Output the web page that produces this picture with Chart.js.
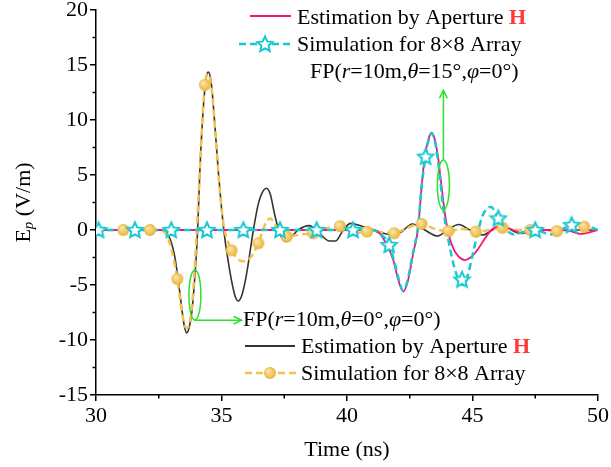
<!DOCTYPE html>
<html>
<head>
<meta charset="utf-8">
<script src="https://cdn.jsdelivr.net/npm/chart.js@4.4.0/dist/chart.umd.min.js"></script>
<style>
  html, body { margin: 0; padding: 0; background: #fff; }
  #wrap { width: 611px; height: 467px; }
</style>
</head>
<body>
<div id="wrap"><canvas id="chart" width="611" height="467"></canvas></div>
<script>
// FP(r=10m, theta=0) : estimation by aperture H (black)
const estTime0 = [30, 32.6, 32.8, 32.95, 33.1, 33.2, 33.3, 33.41, 33.5, 33.61, 33.72, 33.82, 33.94, 34.05, 34.14, 34.27, 34.4, 34.48, 34.6, 34.74, 34.87, 35.0, 35.14, 35.25, 35.4, 35.54, 35.67, 35.8, 35.95, 36.07, 36.27, 36.47, 36.67, 36.8, 36.95, 37.1, 37.25, 37.4, 37.57, 37.8, 38.05, 38.5, 38.9, 39.3, 39.55, 39.85, 40.15, 40.6, 41.1, 41.7, 42.15, 42.6, 43.1, 43.6, 44.0, 44.45, 44.9, 45.4, 45.8, 46.2, 46.9, 47.5, 48.5, 50];
const estVal0 = [0, 0, -0.2, -0.8, -2.0, -3.3, -5.0, -7.0, -8.5, -9.35, -8.8, -7.4, -4.2, 0, 5.5, 10.9, 14.0, 14.35, 13.2, 9.4, 5.4, 2.0, -0.9, -2.6, -4.6, -6.0, -6.45, -6.0, -4.6, -3.0, 0, 2.4, 3.6, 3.8, 3.2, 1.6, 0.2, -0.7, -1.05, -0.6, 0, 0.4, -0.3, -1.0, -1.0, 0, 0.6, 0.35, 0, -0.4, -0.2, 0.55, 0, -0.55, 0, 0.5, 0, -0.45, 0, 0.3, -0.3, 0, 0, 0];

// FP(r=10m, theta=0) : simulation for 8x8 array (orange dashed)
const simTime0 = [30, 32.6, 32.8, 32.95, 33.1, 33.24, 33.35, 33.45, 33.55, 33.65, 33.75, 33.85, 33.95, 34.05, 34.15, 34.25, 34.34, 34.45, 34.6, 34.74, 34.87, 35.0, 35.12, 35.25, 35.4, 35.6, 35.85, 36.05, 36.25, 36.47, 36.65, 36.8, 36.95, 37.1, 37.35, 37.6, 37.9, 38.2, 38.66, 39.1, 39.72, 40.3, 40.8, 41.3, 41.88, 42.4, 42.97, 43.5, 44.04, 44.6, 45.13, 45.7, 46.2, 46.8, 47.3, 47.8, 48.36, 48.9, 49.45, 50];
const simVal0 = [0, 0, -0.4, -1.3, -2.7, -4.45, -6.3, -7.8, -8.8, -8.9, -8.2, -6.2, -2.8, 1.5, 6.0, 10.5, 13.2, 14.2, 13.0, 9.3, 5.4, 2.0, 0, -1.0, -1.85, -2.5, -2.85, -2.75, -2.2, -1.2, 0, 0.8, 1.05, 0.6, -0.2, -0.6, -0.5, -0.4, -0.3, 0.1, 0.35, -0.3, -0.15, -0.2, -0.3, 0.2, 0.55, 0.1, -0.1, 0.1, -0.15, 0, 0.2, 0, 0, -0.1, -0.1, 0.2, 0.3, 0];
const simMarkTime0 = [31.09, 32.15, 33.24, 34.34, 35.4, 36.47, 37.6, 38.66, 39.72, 40.8, 41.88, 42.97, 44.04, 45.13, 46.2, 47.3, 48.36, 49.45];
const simMarkVal0 = [0, 0, -4.45, 13.2, -1.85, -1.2, -0.6, -0.3, 0.35, -0.15, -0.3, 0.55, -0.1, -0.15, 0.2, 0, -0.1, 0.3];

// FP(r=10m, theta=15) : estimation by aperture H (pink)
const estTime15 = [30, 41.0, 41.3, 41.55, 41.84, 42.04, 42.24, 42.44, 42.64, 42.84, 42.97, 43.1, 43.24, 43.37, 43.5, 43.64, 43.77, 43.9, 44.04, 44.24, 44.44, 44.7, 44.97, 45.23, 45.5, 45.75, 46.1, 46.5, 47.0, 47.6, 48.5, 48.9, 49.3, 50];
const estVal15 = [0, 0, -0.3, -1.2, -2.7, -4.5, -5.6, -4.5, -2.1, 0.3, 3.9, 6.67, 8.2, 8.85, 8.2, 6.4, 3.9, 1.5, -0.3, -1.7, -2.4, -2.73, -2.4, -1.7, -0.75, 0, 0.35, 0.1, -0.3, 0, 0, -0.1, -0.35, 0];

// FP(r=10m, theta=15) : simulation for 8x8 array (cyan dashed)
const simTime15 = [30, 41.0, 41.3, 41.68, 41.9, 42.1, 42.24, 42.4, 42.6, 42.84, 42.97, 43.13, 43.24, 43.37, 43.5, 43.64, 43.77, 43.9, 44.04, 44.17, 44.3, 44.45, 44.6, 44.8, 45.0, 45.2, 45.4, 45.6, 45.75, 45.9, 46.03, 46.35, 46.65, 47.0, 47.5, 48.1, 48.6, 48.95, 49.5, 50];
const simVal15 = [0, 0, -0.3, -1.36, -3.0, -4.8, -5.5, -4.7, -2.4, 0.5, 3.9, 6.67, 8.1, 8.8, 8.1, 6.0, 3.3, 0.9, -0.9, -2.4, -3.6, -4.5, -5.0, -4.2, -2.3, -0.3, 1.3, 2.0, 2.1, 1.6, 1.06, 0, -0.4, -0.2, 0, -0.4, 0.1, 0.45, 0.4, 0];
const simMarkTime15 = [30.1, 31.55, 33.0, 34.42, 35.87, 37.33, 38.79, 40.24, 41.68, 43.13, 44.58, 46.03, 47.5, 48.95];
const simMarkVal15 = [0, 0, 0, 0, 0, 0, 0, 0, -1.36, 6.67, -4.5, 1.06, 0, 0.45];

const xTicks = [30, 35, 40, 45, 50];
const yTicks = [-15, -10, -5, 0, 5, 10, 15, 20];

const FONT = '"Liberation Serif", "Times New Roman", serif';
const BLACK = '#333333';
const ORANGE = '#f2c14e';
const PINK = '#f0147c';
const CYAN = '#17c8d0';
const GREEN = '#2ee02e';

const pts = (ts, vs) => ts.map((t, i) => ({ x: t, y: vs[i] }));

function makeStar(r, color) {
  const c = document.createElement('canvas');
  const size = Math.ceil(r * 2 + 4);
  c.width = c.height = size;
  const g = c.getContext('2d');
  const m = size / 2;
  g.beginPath();
  for (let i = 0; i < 10; i++) {
    const a = -Math.PI / 2 + i * Math.PI / 5;
    const rr = i % 2 ? r * 0.48 : r;
    g.lineTo(m + rr * Math.cos(a), m + rr * Math.sin(a) + 0.5);
  }
  g.closePath();
  g.fillStyle = '#fff';
  g.fill();
  g.lineWidth = 2;
  g.strokeStyle = color;
  g.stroke();
  return c;
}

function makeBall(r) {
  const c = document.createElement('canvas');
  const size = Math.ceil(r * 2 + 2);
  c.width = c.height = size;
  const g = c.getContext('2d');
  const m = size / 2;
  const grad = g.createRadialGradient(m - r * 0.35, m - r * 0.35, r * 0.1, m, m, r);
  grad.addColorStop(0, '#fde6a4');
  grad.addColorStop(1, '#e8b43c');
  g.beginPath();
  g.arc(m, m, r, 0, Math.PI * 2);
  g.fillStyle = grad;
  g.fill();
  return c;
}

const starImg = makeStar(8, CYAN);
const ballImg = makeBall(6);

function rich(ctx, x, y, parts) {
  let cx = x;
  for (const p of parts) {
    ctx.font = (p.i ? 'italic ' : '') + (p.b ? 'bold ' : '') + (p.s || 22) + 'px ' + FONT;
    ctx.fillStyle = p.c || '#000';
    ctx.fillText(p.t, cx, y + (p.dy || 0));
    cx += ctx.measureText(p.t).width;
  }
  return cx - x;
}

function fpParts(theta) {
  return [
    { t: 'FP(' }, { t: 'r', i: true }, { t: '=10m,' }, { t: '\u03B8', i: true },
    { t: '=' + theta + '\u00B0,' }, { t: '\u03C6', i: true }, { t: '=0\u00B0)' }
  ];
}

function seg(ctx, x1, y1, x2, y2) {
  ctx.beginPath();
  ctx.moveTo(x1, y1);
  ctx.lineTo(x2, y2);
  ctx.stroke();
}

function arrowHead(ctx, x, y, dir) {
  const a = 0.45, L = 9;
  ctx.beginPath();
  ctx.moveTo(x - L * Math.cos(dir - a), y - L * Math.sin(dir - a));
  ctx.lineTo(x, y);
  ctx.lineTo(x - L * Math.cos(dir + a), y - L * Math.sin(dir + a));
  ctx.stroke();
}

const overlay = {
  id: 'overlay',
  afterDraw(chart) {
    const ctx = chart.ctx;
    const xs = chart.scales.x, ys = chart.scales.y;
    const area = chart.chartArea;
    ctx.save();

    // minor ticks
    ctx.strokeStyle = '#000';
    ctx.lineWidth = 1.5;
    for (let i = 0; i < xTicks.length - 1; i++) {
      const px = xs.getPixelForValue((xTicks[i] + xTicks[i + 1]) / 2);
      seg(ctx, px, area.bottom, px, area.bottom + 3.5);
    }
    for (let i = 0; i < yTicks.length - 1; i++) {
      const py = ys.getPixelForValue((yTicks[i] + yTicks[i + 1]) / 2);
      seg(ctx, area.left - 3.5, py, area.left, py);
    }

    // y axis title  E_p (V/m)
    ctx.save();
    ctx.translate(24, (area.top + area.bottom) / 2);
    ctx.rotate(-Math.PI / 2);
    ctx.textBaseline = 'middle';
    ctx.textAlign = 'left';
    const yParts = [{ t: 'E' }, { t: 'p', i: true, s: 15, dy: 5 }, { t: ' (V/m)' }];
    let w = 0;
    for (const p of yParts) {
      ctx.font = (p.i ? 'italic ' : '') + (p.s || 22) + 'px ' + FONT;
      w += ctx.measureText(p.t).width;
    }
    rich(ctx, -w / 2, 0, yParts);
    ctx.restore();

    ctx.textBaseline = 'middle';
    ctx.textAlign = 'left';

    // upper legend (theta = 15)
    ctx.strokeStyle = PINK;
    ctx.lineWidth = 2;
    seg(ctx, 250, 16, 291, 16);
    rich(ctx, 297, 18, [{ t: 'Estimation by Aperture ' }, { t: 'H', b: true, c: '#ff3838' }]);
    ctx.strokeStyle = CYAN;
    ctx.lineWidth = 2.5;
    ctx.setLineDash([7, 4]);
    seg(ctx, 239, 44, 293, 44);
    ctx.setLineDash([]);
    ctx.drawImage(starImg, 265 - starImg.width / 2, 44 - starImg.height / 2);
    rich(ctx, 297, 45, [{ t: 'Simulation for 8\u00D78 Array' }]);
    rich(ctx, 310, 72, fpParts(15));

    // lower legend (theta = 0)
    rich(ctx, 243, 320, fpParts(0));
    ctx.strokeStyle = BLACK;
    ctx.lineWidth = 1.8;
    seg(ctx, 245, 346, 295, 346);
    rich(ctx, 301, 347, [{ t: 'Estimation by Aperture ' }, { t: 'H', b: true, c: '#ff3838' }]);
    ctx.strokeStyle = ORANGE;
    ctx.lineWidth = 2.5;
    ctx.setLineDash([7, 4]);
    seg(ctx, 245, 373, 296, 373);
    ctx.setLineDash([]);
    ctx.drawImage(ballImg, 270 - ballImg.width / 2, 373 - ballImg.height / 2);
    rich(ctx, 301, 374, [{ t: 'Simulation for 8\u00D78 Array' }]);

    // green marks
    ctx.strokeStyle = GREEN;
    ctx.lineWidth = 1.5;
    const e1x = xs.getPixelForValue(33.94), e1y = ys.getPixelForValue(-5.9);
    ctx.beginPath();
    ctx.ellipse(e1x, e1y, 6, 25, 0, 0, Math.PI * 2);
    ctx.stroke();
    const hy = ys.getPixelForValue(-8.2), hx = xs.getPixelForValue(35.8);
    ctx.beginPath();
    ctx.moveTo(e1x, e1y + 25);
    ctx.lineTo(e1x, hy);
    ctx.lineTo(hx, hy);
    ctx.stroke();
    arrowHead(ctx, hx, hy, 0);

    const e2x = xs.getPixelForValue(43.84), e2y = ys.getPixelForValue(4.1);
    ctx.beginPath();
    ctx.ellipse(e2x, e2y, 6, 25, 0, 0, Math.PI * 2);
    ctx.stroke();
    const ty = ys.getPixelForValue(12.7);
    seg(ctx, e2x, e2y - 25, e2x, ty);
    arrowHead(ctx, e2x, ty, -Math.PI / 2);

    ctx.restore();
  }
};

const tickFont = { family: FONT, size: 22 };

new Chart(document.getElementById('chart'), {
  type: 'line',
  data: {
    datasets: [
      { label: 'sim15 marks', data: pts(simMarkTime15, simMarkVal15), showLine: false, pointStyle: starImg, pointRadius: 8, order: 0 },
      { label: 'sim15', data: pts(simTime15, simVal15), borderColor: CYAN, borderWidth: 2.5, borderDash: [7, 4], pointRadius: 0, cubicInterpolationMode: 'monotone', order: 2 },
      { label: 'est15', data: pts(estTime15, estVal15), borderColor: PINK, borderWidth: 1.8, pointRadius: 0, cubicInterpolationMode: 'monotone', order: 3 },
      { label: 'sim0 marks', data: pts(simMarkTime0, simMarkVal0), showLine: false, pointStyle: ballImg, pointRadius: 6, order: 1 },
      { label: 'sim0', data: pts(simTime0, simVal0), borderColor: ORANGE, borderWidth: 2.5, borderDash: [7, 4], pointRadius: 0, cubicInterpolationMode: 'monotone', order: 4 },
      { label: 'est0', data: pts(estTime0, estVal0), borderColor: BLACK, borderWidth: 1.6, pointRadius: 0, cubicInterpolationMode: 'monotone', order: 5 }
    ]
  },
  options: {
    responsive: false,
    animation: false,
    devicePixelRatio: 1,
    layout: { padding: { left: 0, right: 13, top: 10, bottom: 0 } },
    plugins: { legend: { display: false }, tooltip: { enabled: false } },
    scales: {
      x: {
        type: 'linear', min: 30, max: 50,
        afterBuildTicks(s) { s.ticks = xTicks.map(v => ({ value: v })); },
        ticks: { font: tickFont, color: '#000', padding: 2, maxRotation: 0, autoSkip: false },
        grid: { drawOnChartArea: false, drawTicks: true, tickLength: 6, color: '#000', lineWidth: 1.5 },
        border: { display: true, color: '#000', width: 1.5 },
        title: { display: true, text: 'Time (ns)', color: '#000', font: { family: FONT, size: 22 }, padding: { top: 0, bottom: 4 } },
        afterFit(s) { s.height = 72; s.paddingLeft = 0; s.paddingRight = 0; }
      },
      y: {
        type: 'linear', min: -15, max: 20,
        afterBuildTicks(s) { s.ticks = yTicks.map(v => ({ value: v })); },
        ticks: { font: tickFont, color: '#000', padding: 2 },
        grid: { drawOnChartArea: false, drawTicks: true, tickLength: 6, color: '#000', lineWidth: 1.5 },
        border: { display: true, color: '#000', width: 1.5 },
        afterFit(s) { s.width = 96; s.paddingTop = 0; s.paddingBottom = 0; }
      }
    }
  },
  plugins: [overlay]
});
</script>
</body>
</html>
